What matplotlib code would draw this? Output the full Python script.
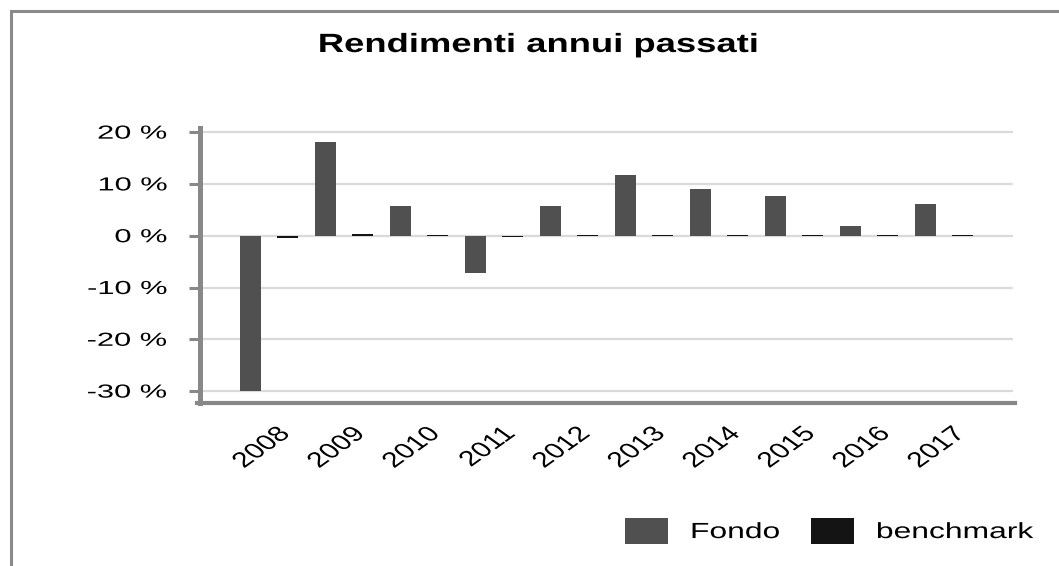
import matplotlib
matplotlib.use("Agg")
import matplotlib.pyplot as plt
from matplotlib.patches import Rectangle
from matplotlib.transforms import ScaledTranslation, Affine2D
from matplotlib.patheffects import AbstractPathEffect
import numpy as np

years = ["2008", "2009", "2010", "2011", "2012", "2013", "2014", "2015", "2016", "2017"]
fondo = [-30.0, 18.1, 5.7, -7.2, 5.7, 11.7, 9.0, 7.7, 1.9, 6.1]
benchmark = [-0.4, 0.3, 0.15, -0.2, 0.15, 0.15, 0.15, 0.15, 0.15, 0.15]
yticks = [20, 10, 0, -10, -20, -30]
ytick_labels = ["20 %", "10 %", "0 %", "-10 %", "-20 %", "-30 %"]

plt.rcParams['font.family'] = ['Liberation Sans', 'DejaVu Sans']


class HStretch(AbstractPathEffect):
    """Stretch a text horizontally about its anchor point."""
    def __init__(self, text, sx):
        super().__init__()
        self.text = text
        self.sx = sx

    def draw_path(self, renderer, gc, tpath, affine, rgbFace=None):
        x0 = self.text.get_transform().transform(self.text.get_unitless_position())[0]
        a = affine + Affine2D().translate(-x0, 0).scale(self.sx, 1).translate(x0, 0)
        renderer.draw_path(gc, tpath, a, rgbFace)


W, H = 1059, 566
fig = plt.figure(figsize=(W / 100, H / 100), dpi=100)
fig.patch.set_facecolor('white')

# outer frame
fig.patches.append(Rectangle((10.5 / W, -0.1), 1.2, 1 - 10.5 / H + 0.1,
                             transform=fig.transFigure, fill=False,
                             edgecolor='#8a8a8a', linewidth=2.2))

ax = fig.add_axes([200 / W, 1 - 403 / H, (1013 - 200) / W, (403 - 128) / H])
x = np.arange(len(years))
bw = 0.28
off = 0.247
ax.bar(x - off, fondo, width=bw, color='#505050', label='Fondo', zorder=3)
ax.bar(x + off, benchmark, width=bw, color='#141414', label='benchmark', zorder=3)

ax.set_xlim(-0.92, 9.92)
ax.set_ylim(-32.3, 20.8)
ax.set_yticks(yticks)
ax.set_yticklabels(ytick_labels, fontsize=13.6)
ax.yaxis.grid(True, color='#dadada', linewidth=1.6, zorder=0)
ax.set_axisbelow(True)

for s in ['top', 'right']:
    ax.spines[s].set_visible(False)
ax.spines['left'].set_color('#888888')
ax.spines['left'].set_linewidth(3.6)
ax.spines['bottom'].set_color('#888888')
ax.spines['bottom'].set_linewidth(3.0)
ax.spines['bottom'].set_bounds(-0.96, 9.95)
ax.tick_params(axis='y', length=8, width=2.2, color='#888888', pad=15.5)
ax.tick_params(axis='x', length=0, pad=20)

ax.set_xticks(x)
ax.set_xticklabels(years, fontsize=15.5, rotation=45, ha='right', va='center',
                   rotation_mode='anchor')
for t in ax.xaxis.get_major_ticks():
    lab = t.label1
    lab.set_transform(lab.get_transform() + ScaledTranslation(0.17, 0, fig.dpi_scale_trans))
    lab.set_path_effects([HStretch(lab, 1.4)])
for t in ax.yaxis.get_major_ticks():
    t.label1.set_path_effects([HStretch(t.label1, 1.63)])

title = fig.text(538.5 / W, 1 - 52 / H, "Rendimenti annui passati", ha='center',
                 va='baseline', fontsize=19, fontweight='bold')
title.set_path_effects([HStretch(title, 1.38)])

fs = 15.8
em = fs * 100 / 72
leg = fig.legend(loc='upper left', bbox_to_anchor=(625 / W, 1 - 518 / H),
                 ncol=2, frameon=False, fontsize=fs, borderpad=0, borderaxespad=0,
                 handlelength=43 / em, handleheight=31 / em,
                 handletextpad=22 / em, columnspacing=59 / em)
for t in leg.get_texts():
    t.set_path_effects([HStretch(t, 1.45)])

fig.savefig("out.png", dpi=100)
